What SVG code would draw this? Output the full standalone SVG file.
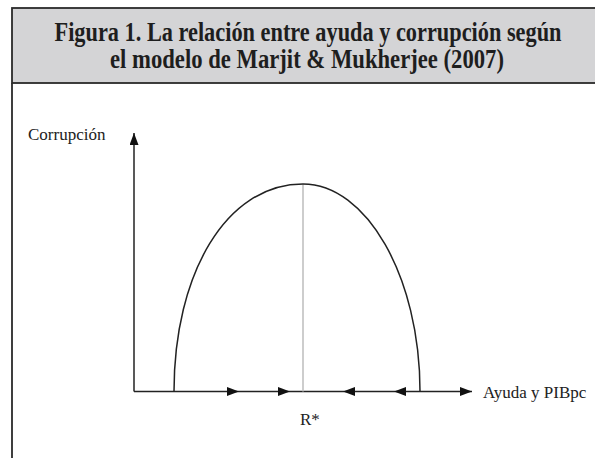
<svg xmlns="http://www.w3.org/2000/svg" width="595" height="458" viewBox="0 0 595 458">
<style>
.title{font-family:"Liberation Serif",serif;font-weight:bold;font-size:26.5px;fill:#1e1e1e;}
.lbl{font-family:"Liberation Serif",serif;font-size:17px;fill:#222;}
.ax{stroke:#222;stroke-width:1.5;fill:none;}
.tri{fill:#111;stroke:none;}
</style>
<defs>
<marker id="ah" viewBox="0 0 12 9" refX="12" refY="4.5" markerWidth="12" markerHeight="9" markerUnits="userSpaceOnUse" orient="auto">
<path d="M0,0 L12,4.5 L0,9 Z" class="tri"/>
</marker>
</defs>
<rect x="0" y="0" width="595" height="458" fill="#ffffff"/>
<g id="header">
<rect x="12" y="8" width="590" height="75" fill="#d4d4d6" stroke="#2a2a2a" stroke-width="1.8"/>
<g transform="translate(308,0) scale(0.85,1)">
<text class="title" x="0" y="41" text-anchor="middle" textLength="596.5" lengthAdjust="spacingAndGlyphs">Figura 1. La relación entre ayuda y corrupción según</text>
<text class="title" x="-1.2" y="68.5" text-anchor="middle" textLength="463.5" lengthAdjust="spacingAndGlyphs">el modelo de Marjit &amp; Mukherjee (2007)</text>
</g>
</g>
<g id="frame">
<line x1="12" y1="83" x2="12" y2="458" stroke="#2a2a2a" stroke-width="1.8"/>
</g>
<g id="connectors">
<line id="y-axis" class="ax" x1="134" y1="391.5" x2="134" y2="133" marker-end="url(#ah)"/>
<line id="x-axis" class="ax" x1="134" y1="391.5" x2="472" y2="391.5" marker-end="url(#ah)"/>
<line id="rstar-line" x1="303" y1="184" x2="303" y2="391.5" stroke="#bdbdbd" stroke-width="1.5"/>
</g>
<g id="curve">
<path class="ax" d="M174,391.5 C174,274 226,184 303,184 C366,184 420,276 420,391.5"/>
</g>
<g id="flow-arrows">
<path class="tri" d="M227,387 L239,391.5 L227,396 Z"/>
<path class="tri" d="M278,387 L290,391.5 L278,396 Z"/>
<path class="tri" d="M355,387 L343,391.5 L355,396 Z"/>
<path class="tri" d="M406,387 L394,391.5 L406,396 Z"/>
</g>
<g id="labels">
<text class="lbl" x="28" y="140">Corrupción</text>
<text class="lbl" x="483" y="398">Ayuda y PIBpc</text>
<text class="lbl" x="300" y="425">R*</text>
</g>
</svg>
